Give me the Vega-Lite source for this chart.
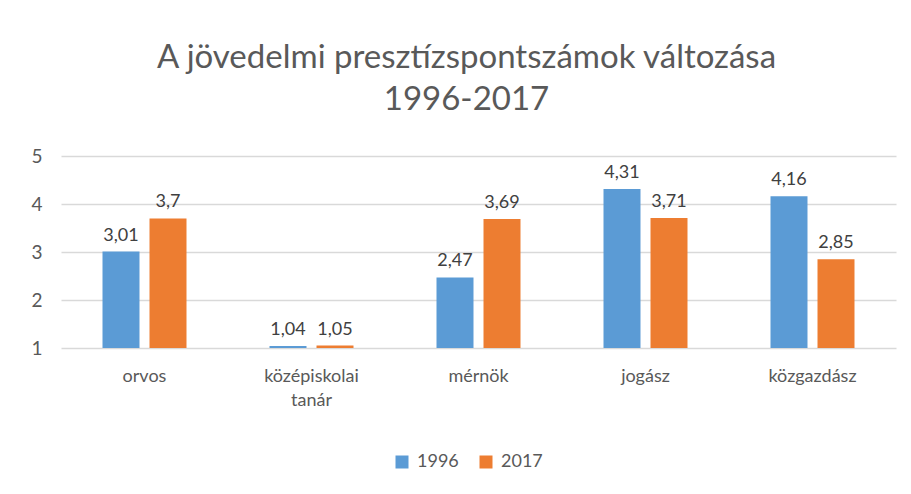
{
  "$schema": "https://vega.github.io/schema/vega-lite/v6.json",
  "width": 835,
  "height": 192,
  "autosize": {"type": "none"},
  "padding": {"left": 61, "top": 156, "right": 15, "bottom": 146},
  "background": "white",
  "title": {
    "text": ["A jövedelmi presztízspontszámok változása", "1996-2017"],
    "fontSize": 33,
    "font": "Lato",
    "fontWeight": "normal",
    "color": "#595959",
    "lineHeight": 42,
    "anchor": "middle",
    "dx": -12,
    "offset": 30
  },
  "data": {
    "values": [
      {"foglalkozás": "orvos", "év": "1996", "érték": 3.01},
      {"foglalkozás": "orvos", "év": "2017", "érték": 3.7},
      {"foglalkozás": "középiskolai tanár", "év": "1996", "érték": 1.04},
      {"foglalkozás": "középiskolai tanár", "év": "2017", "érték": 1.05},
      {"foglalkozás": "mérnök", "év": "1996", "érték": 2.47},
      {"foglalkozás": "mérnök", "év": "2017", "érték": 3.69},
      {"foglalkozás": "jogász", "év": "1996", "érték": 4.31},
      {"foglalkozás": "jogász", "év": "2017", "érték": 3.71},
      {"foglalkozás": "közgazdász", "év": "1996", "érték": 4.16},
      {"foglalkozás": "közgazdász", "év": "2017", "érték": 2.85}
    ]
  },
  "encoding": {
    "x": {
      "field": "foglalkozás",
      "type": "nominal",
      "sort": null,
      "scale": {"paddingInner": 0, "paddingOuter": 0},
      "axis": {
        "title": null,
        "labelAngle": 0,
        "labelExpr": "split(datum.label, ' ')",
        "labelFontSize": 18,
        "labelFont": "Lato",
        "labelColor": "#595959",
        "labelLineHeight": 24,
        "labelPadding": 19,
        "labelBaseline": "top",
        "domain": false,
        "ticks": false,
        "grid": false
      }
    },
    "xOffset": {
      "field": "év",
      "type": "nominal",
      "scale": {"paddingInner": 0.213, "paddingOuter": 0.883}
    },
    "y": {
      "field": "érték",
      "type": "quantitative",
      "scale": {"domain": [1, 5], "nice": false, "zero": false},
      "axis": {
        "title": null,
        "values": [1, 2, 3, 4, 5],
        "format": "d",
        "labelFontSize": 19,
        "labelFont": "Lato",
        "labelColor": "#595959",
        "labelPadding": 19,
        "domain": false,
        "ticks": false,
        "gridColor": "#d9d9d9",
        "gridWidth": 1.5
      }
    }
  },
  "layer": [
    {
      "mark": {"type": "bar"},
      "encoding": {
        "y2": {"datum": 1},
        "color": {
          "field": "év",
          "type": "nominal",
          "scale": {"range": ["#5b9bd5", "#ed7d31"]},
          "legend": {
            "title": null,
            "orient": "none",
            "direction": "horizontal",
            "legendX": 332,
            "legendY": 297,
            "symbolType": "square",
            "symbolSize": 169,
            "symbolStrokeWidth": 0,
            "labelFontSize": 18,
            "labelFont": "Lato",
            "labelColor": "#595959",
            "columnPadding": 18,
            "labelOffset": 6
          }
        }
      }
    },
    {
      "mark": {"type": "text", "baseline": "alphabetic", "dy": -11, "fontSize": 18, "font": "Lato", "color": "#404040"},
      "encoding": {
        "text": {"field": "érték", "type": "quantitative", "format": "~g"}
      }
    }
  ],
  "config": {
    "locale": {"number": {"decimal": ",", "thousands": " ", "grouping": [3], "currency": ["", ""]}},
    "view": {"stroke": null}
  }
}
